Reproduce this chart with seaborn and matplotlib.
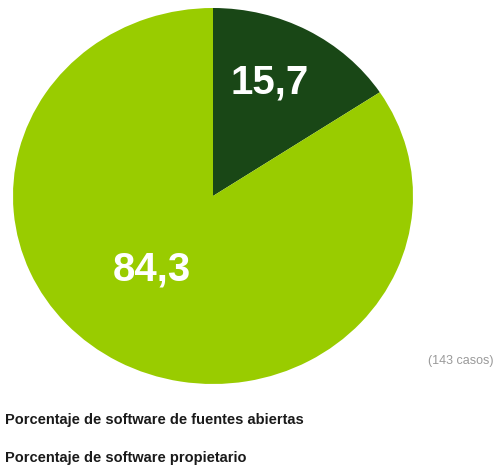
import matplotlib
matplotlib.use("Agg")
import matplotlib.pyplot as plt
import seaborn as sns

# data
categories = ["Porcentaje de software de fuentes abiertas", "Porcentaje de software propietario"]
values = [15.7, 84.3]
value_labels = ["15,7", "84,3"]
note = "(143 casos)"
colors = ["#194716", "#99cc00"]

sns.set_theme(style="white")
plt.rcParams["font.family"] = ["Liberation Sans", "DejaVu Sans"]

fig = plt.figure(figsize=(4.95, 4.70), dpi=100)
ax = fig.add_axes([13 / 495, 86 / 470, 400 / 495, 376 / 470])

wedges, _ = ax.pie(values, colors=colors, startangle=90, counterclock=False,
                   radius=1.0, wedgeprops=dict(linewidth=0))
ax.set_aspect("auto")
ax.set_xlim(-1, 1)
ax.set_ylim(-1, 1)
ax.axis("off")

# value labels
label_pos = [(0.285, 0.605), (-0.305, -0.39)]
for (x, y), txt in zip(label_pos, value_labels):
    ax.text(x, y, txt, ha="center", va="center", color="white",
            fontsize=29, fontweight="bold", fontstretch="condensed")

fig.text(493 / 495, 1 - 361 / 470, note, ha="right", va="center",
         color="#9a9a9a", fontsize=9)

# legend rows (text only)
for i, cat in enumerate(categories):
    fig.text(5 / 495, 1 - (420 + 38 * i) / 470, cat, ha="left", va="center",
             color="#1a1a1a", fontsize=10.5, fontweight="bold")

fig.savefig("out.png", dpi=100)
